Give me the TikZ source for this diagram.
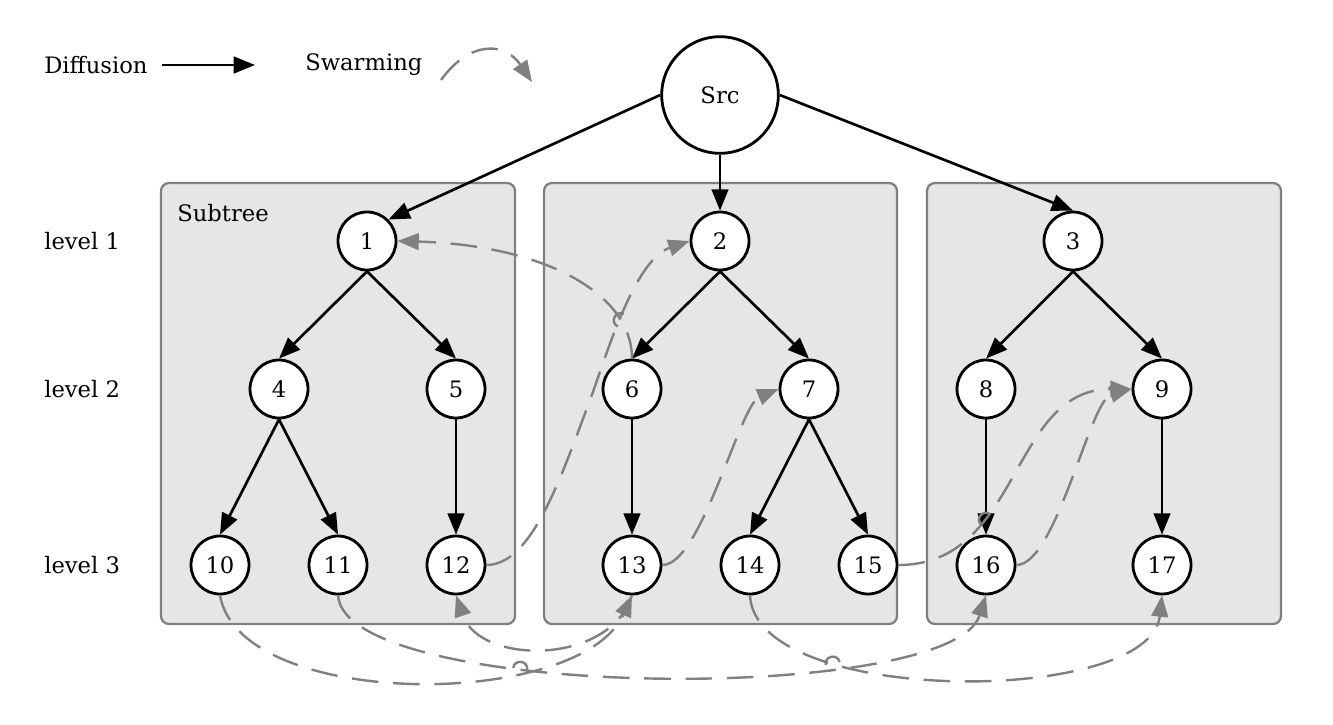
\documentclass[tikz,border=0pt]{standalone}
\usepackage{fontspec}
\setmainfont{DejaVu Serif}
\usepackage{tikz}
\usetikzlibrary{arrows.meta,calc,intersections}
\definecolor{swarmgray}{HTML}{808080}
\definecolor{subfill}{HTML}{E6E6E6}

\begin{document}
\begin{tikzpicture}[x=0.75pt,y=-0.75pt,
    font=\fontsize{17}{20}\selectfont,
    peer/.style={circle,draw,line width=2.1pt,fill=white,minimum size=43.5pt,inner sep=0pt},
    srcpeer/.style={peer,minimum size=87.5pt},
    diffuse/.style={line width=2pt,-{Triangle[length=16pt,width=12.5pt]}},
    swarm/.style={swarmgray,line width=1.8pt,dash pattern=on 20pt off 11pt,-{Triangle[length=16pt,width=12.5pt]}},
    hop/.style={swarmgray,line width=1.8pt},
    subtree/.style={draw=swarmgray,fill=subfill,line width=1.7pt,rounded corners=6pt},
    lbl/.style={anchor=west,inner sep=0pt}]
    \useasboundingbox (0,0) rectangle (1333,724);
    %% Subtrees
    \draw[subtree] (161,183) rectangle (515,624);
    \draw[subtree] (544,183) rectangle (897,624);
    \draw[subtree] (927,183) rectangle (1281,624);
    \node[lbl] (sub) at (177,213) {Subtree};
    \node[lbl] (lv1) at (44,241) {level 1};
    \node[lbl] (lv2) at (44,389) {level 2};
    \node[lbl] (lv3) at (44,565) {level 3};
    %% Legend
    \node[lbl] (difflbl) at (44,65) {Diffusion};
    \coordinate (diff-a) at (162,65);
    \coordinate (diff-b) at (255,65);
    \draw[diffuse] (diff-a) -- (diff-b);
    \node[lbl] (swarmlbl) at (305,65) {Swarming};
    \coordinate (swarm-a) at (441,80);
    \coordinate (swarm-b) at (532,82);
    \draw[swarm] (swarm-a) .. controls (470,40) and (505,42) .. (swarm-b);
    %% Peers
    \node[srcpeer] (src) at (720,95) {Src};
    \node[peer] (n1) at (367,241) {1};
    \node[peer] (n2) at (720,241) {2};
    \node[peer] (n3) at (1073,241) {3};
    \node[peer] (n4) at (279,389) {4};
    \node[peer] (n5) at (456,389) {5};
    \node[peer] (n6) at (632,389) {6};
    \node[peer] (n7) at (809,389) {7};
    \node[peer] (n8) at (986,389) {8};
    \node[peer] (n9) at (1162,389) {9};
    \node[peer] (n10) at (220,565) {10};
    \node[peer] (n11) at (338,565) {11};
    \node[peer] (n12) at (456,565) {12};
    \node[peer] (n13) at (632,565) {13};
    \node[peer] (n14) at (750,565) {14};
    \node[peer] (n15) at (868,565) {15};
    \node[peer] (n16) at (986,565) {16};
    \node[peer] (n17) at (1162,565) {17};
    %% Diffusion
    \draw[diffuse] (src.west) -- (n1.north east);
    \draw[diffuse] (src.south) -- (n2.north);
    \draw[diffuse] (src.east) -- (n3.north);
    \foreach \a/\b in {1/4,1/5,2/6,2/7,3/8,3/9,4/10,4/11,5/12,6/13,7/14,7/15,9/17}
        \draw[diffuse] (n\a.south) -- (n\b.north);
    \draw[diffuse, name path=d816] (n8.south) -- (n16.north);
    %% Swarming
    \draw[swarm, name path=s61] (n6.north) .. controls +(0,-67) and +(143,4) .. (n1.east);
    \draw[swarm, name path=s122] (n12.east) .. controls +(45,0) and (560,480) .. (590,400)
        .. controls (605,360) and +(-56,19) .. (n2.west);
    \draw[swarm] (n13.east) .. controls +(39,0) and +(-39,16) .. (n7.west);
    \draw[swarm, name path=s159] (n15.east) .. controls +(123,0) and +(-122,0) .. (n9.west);
    \draw[swarm] (n16.east) .. controls +(40,0) and +(-42,11) .. (n9.west);
    \draw[swarm, name path=s1013] (n10.south) .. controls +(20,115) and +(-52,115) .. (n13.south);
    \draw[swarm] (n13.south) .. controls +(-22,70) and +(24,70) .. (n12.south);
    \draw[swarm, name path=s1116] (n11.south) .. controls +(7,105) and +(-35,110) .. (n16.south);
    \draw[swarm, name path=s1417] (n14.south) .. controls +(5,111) and +(-12,111) .. (n17.south);
    %% Line hops
    \path[name intersections={of=s61 and s122, by=h1}];
    \path[name intersections={of=s159 and d816, by=h2}];
    \path[name intersections={of=s1013 and s1116, by=h3}];
    \path[name intersections={of=s1417 and s1116, by=h4}];
    \draw[hop] ($(h1)+(-3,6.3)$) .. controls ($(h1)+(-11.4,2.3)$) and ($(h1)+(-5.4,-10.3)$) .. ($(h1)+(3,-6.3)$);
    \draw[hop] ($(h2)+(-4.4,5.4)$) .. controls ($(h2)+(-11.7,-0.4)$) and ($(h2)+(-2.9,-11.3)$) .. ($(h2)+(4.4,-5.4)$);
    \draw[hop] ($(h3)+(-7,-0.8)$) .. controls ($(h3)+(-5.9,-10.1)$) and ($(h3)+(8.1,-8.4)$) .. ($(h3)+(7,0.8)$);
    \draw[hop] ($(h4)+(-6.9,1.5)$) .. controls ($(h4)+(-8.8,-7.6)$) and ($(h4)+(4.9,-10.6)$) .. ($(h4)+(6.9,-1.5)$);
\end{tikzpicture}
\end{document}
